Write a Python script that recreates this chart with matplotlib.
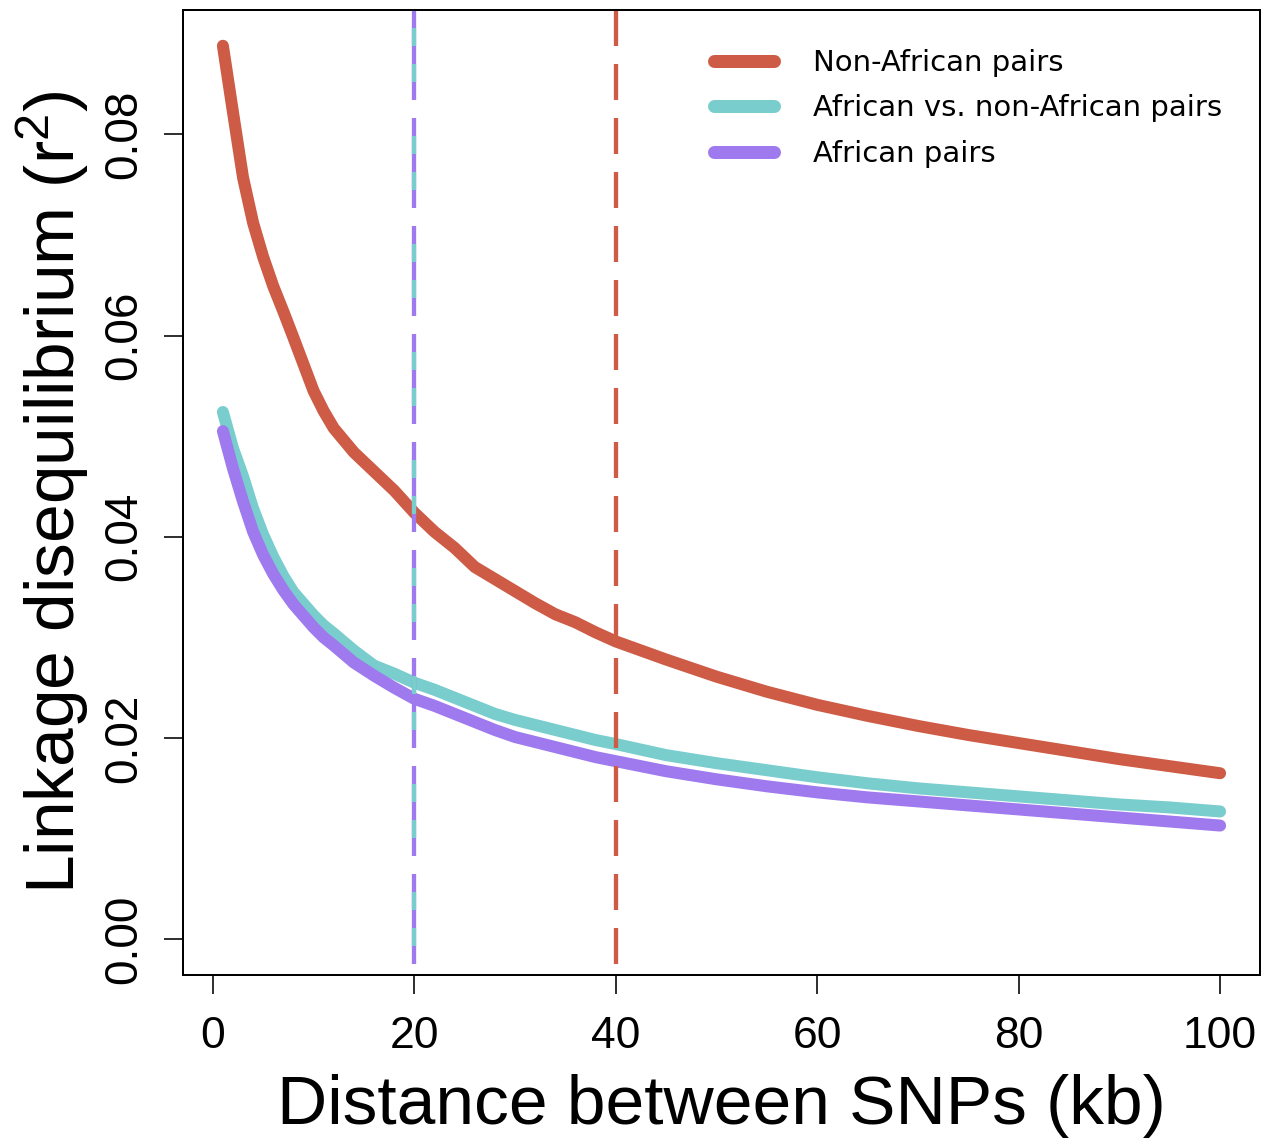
import matplotlib
matplotlib.use("Agg")
import matplotlib.pyplot as plt

plt.rcParams['font.family'] = ['Liberation Sans', 'DejaVu Sans']
plt.rcParams['mathtext.fontset'] = 'custom'
plt.rcParams['mathtext.rm'] = 'Liberation Sans'
plt.rcParams['lines.scale_dashes'] = False

# ---- data ----
distance_kb = [1, 2, 3, 4, 5, 6, 7, 8, 10, 11, 12, 14, 16, 18, 20, 22, 24, 26, 28, 30,
               32, 34, 36, 38, 40, 45, 50, 55, 60, 65, 70, 75, 80, 85, 90, 95, 100]
non_african = [0.0888, 0.0822, 0.0757, 0.0712, 0.0678, 0.0649, 0.0624, 0.0598, 0.0545,
               0.0525, 0.0508, 0.0484, 0.0465, 0.0446, 0.0424, 0.0405, 0.0389, 0.0370,
               0.0358, 0.0346, 0.0334, 0.0323, 0.0315, 0.0305, 0.0296, 0.0278, 0.0261,
               0.0246, 0.0233, 0.0222, 0.0212, 0.0203, 0.0195, 0.0187, 0.0179, 0.0172,
               0.0165]
african_vs_non = [0.0524, 0.0488, 0.0460, 0.0428, 0.0402, 0.0380, 0.0361, 0.0345, 0.0322,
                  0.0312, 0.0304, 0.0287, 0.0272, 0.0264, 0.0255, 0.0248, 0.0240, 0.0232,
                  0.0224, 0.0218, 0.0213, 0.0208, 0.0203, 0.0198, 0.0194, 0.0183, 0.0175,
                  0.0168, 0.0161, 0.0155, 0.0150, 0.0146, 0.0142, 0.0138, 0.0134, 0.0131,
                  0.0127]
african = [0.0505, 0.0468, 0.0435, 0.0405, 0.0382, 0.0363, 0.0347, 0.0333, 0.0310,
           0.0300, 0.0292, 0.0275, 0.0262, 0.0250, 0.0239, 0.0232, 0.0224, 0.0216,
           0.0208, 0.0201, 0.0196, 0.0191, 0.0186, 0.0181, 0.0177, 0.0167, 0.0159,
           0.0152, 0.0146, 0.0141, 0.0137, 0.0133, 0.0129, 0.0125, 0.0121, 0.0117,
           0.0113]
series_labels = ["Non-African pairs", "African vs. non-African pairs", "African pairs"]
vline_nonafrican = 40
vline_african = 20
x_ticks = [0, 20, 40, 60, 80, 100]
y_ticks = [0.00, 0.02, 0.04, 0.06, 0.08]

RED = "#CD5B45"
TEAL = "#79CDCD"
PURPLE = "#9F79EE"

W, H, DPI = 1263, 1139, 100
fig = plt.figure(figsize=(W / DPI, H / DPI), dpi=DPI)
ax = fig.add_axes([183 / W, 1 - 975 / H, (1260 - 183) / W, (975 - 10) / H])

px = 72.0 / DPI  # points per pixel
lw = 12 * px

ax.plot(distance_kb, non_african, color=RED, lw=lw, solid_capstyle='round',
        solid_joinstyle='round', label=series_labels[0])
ax.plot(distance_kb, african_vs_non, color=TEAL, lw=lw, solid_capstyle='round',
        solid_joinstyle='round', label=series_labels[1])
ax.plot(distance_kb, african, color=PURPLE, lw=lw, solid_capstyle='round',
        solid_joinstyle='round', label=series_labels[2])

# vertical dashed lines drawn from top to bottom
tr = ax.get_xaxis_transform()
vlw = 4.3 * px
ax.plot([vline_african, vline_african], [1, 0], transform=tr, color=PURPLE, lw=vlw,
        linestyle=(0, (90 * px, 18 * px)))
ax.plot([vline_african, vline_african], [1, 0], transform=tr, color=TEAL, lw=vlw,
        linestyle=(90 * px, (18 * px, 18 * px, 18 * px, 54 * px)))
ax.plot([vline_nonafrican, vline_nonafrican], [1, 0], transform=tr, color=RED, lw=vlw,
        linestyle=(0, (36 * px, 18 * px)))

xmin, xmax = min(distance_kb), max(distance_kb)
xr = xmax - xmin
ax.set_xlim(xmin - 0.04 * xr, xmax + 0.04 * xr)
ymax = max(non_african)
ax.set_ylim(-0.04 * ymax, ymax * 1.04)

ax.set_xticks(x_ticks)
ax.set_xticklabels([str(v) for v in x_ticks])
ax.set_yticks(y_ticks)
ax.set_yticklabels(["%.2f" % v for v in y_ticks], rotation=90, va='center')
ax.tick_params(axis='both', direction='out', length=19 * px, width=1.6 * px,
               labelsize=32, color='black')
ax.tick_params(axis='x', pad=16)
ax.tick_params(axis='y', pad=13, labelsize=33)

for s in ax.spines.values():
    s.set_linewidth(2 * px)
    s.set_color('black')

ax.set_xlabel("Distance between SNPs (kb)", fontsize=50, labelpad=12)
ax.set_ylabel(r"Linkage disequilibrium ($\mathregular{r^2}$)", fontsize=50, labelpad=8)

leg = ax.legend(loc='upper left', bbox_to_anchor=((714 - 183) / (1260 - 183), (975 - 49) / 965),
                frameon=False, prop={'family': 'DejaVu Sans', 'size': 21},
                handlelength=2.05, handletextpad=1.34, labelspacing=0.6,
                borderpad=0, borderaxespad=0)
for h in leg.get_lines():
    h.set_linewidth(13 * px)

fig.savefig("out.png", dpi=DPI)
